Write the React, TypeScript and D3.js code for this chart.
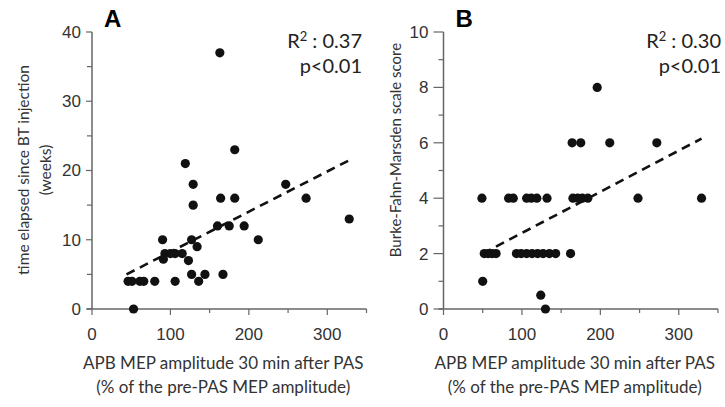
import React from "react";
import * as d3 from "d3";

// panel A: time since BT injection (weeks) vs MEP amplitude
const mepA = [163, 182, 119, 129, 129, 164, 182, 247, 273, 328, 160, 175, 194, 212, 90, 127, 134, 93, 100, 106, 115, 91, 123, 127, 144, 167, 46, 51, 61, 66, 80, 106, 136, 53];
const weeksA = [37, 23, 21, 18, 15, 16, 16, 18, 16, 13, 12, 12, 12, 10, 10, 10, 9, 8, 8, 8, 8, 7.2, 7, 5, 5, 5, 4, 4, 4, 4, 4, 4, 4, 0];
const fitA = [[44, 5.0], [330, 21.6]];

// panel B: BFM scale score vs MEP amplitude
const mepB = [196, 164, 175, 212, 272, 49, 83, 89, 106, 112, 119, 132, 165, 171, 177, 184, 248, 329, 52, 57, 62, 67, 93, 99, 106, 113, 120, 127, 135, 143, 162, 50, 124, 130];
const scoreB = [8, 6, 6, 6, 6, 4, 4, 4, 4, 4, 4, 4, 4, 4, 4, 4, 4, 4, 2, 2, 2, 2, 2, 2, 2, 2, 2, 2, 2, 2, 2, 1, 0.5, 0];
const fitB = [[50, 2.0], [329, 6.15]];

const xTicks = [0, 100, 200, 300];
const xMinor = [0, 50, 100, 150, 200, 250, 300, 350];

const titleFont = "Lato, 'Open Sans', sans-serif";
const tickFont = "'Liberation Sans', Arial, sans-serif";
const axisColor = "#666";

type PanelProps = {
  x0: number;
  label: string;
  xs: number[];
  ys: number[];
  fit: number[][];
  yMax: number;
  yMinor: number[];
  yMajor: number[];
  majorLen: number;
  yTitle: string[];
  yTitleX: number[];
  yTitleY: number;
  yTitleSize: number;
  r2: string;
  textRight: number;
};

const Panel = (p: PanelProps) => {
  const x = d3.scaleLinear().domain([0, 350]).range([p.x0, p.x0 + 274.5]);
  const y = d3.scaleLinear().domain([0, p.yMax]).range([309, 32]);
  const line = d3.line<number[]>().x((d) => x(d[0])).y((d) => y(d[1]));

  return (
    <g>
      <text x={p.x0 + 12} y={27} fontFamily={tickFont} fontWeight="bold" fontSize={24}>{p.label}</text>
      {/* y axis */}
      <line x1={p.x0} x2={p.x0} y1={y(0)} y2={y(p.yMax)} stroke={axisColor} strokeWidth={1.5} />
      {p.yMinor.map((t) => (
        <line key={"ym" + t} x1={p.x0 - (p.yMajor.includes(t) ? p.majorLen : 5)} x2={p.x0} y1={y(t)} y2={y(t)} stroke={axisColor} strokeWidth={1.2} />
      ))}
      {p.yMajor.map((t) => (
        <text key={"yl" + t} x={p.x0 - p.majorLen - 5} y={y(t)} dy="0.35em" textAnchor="end" fontFamily={tickFont} fontSize={17} fill="#333">{t}</text>
      ))}
      {/* x axis */}
      <line x1={x(0) - 5} x2={x(350)} y1={y(0)} y2={y(0)} stroke={axisColor} strokeWidth={1.5} />
      {xMinor.map((t) => (
        <line key={"xm" + t} x1={x(t)} x2={x(t)} y1={y(0)} y2={y(0) + (xTicks.includes(t) ? 6 : 4)} stroke={axisColor} strokeWidth={1.2} />
      ))}
      {xTicks.map((t) => (
        <text key={"xl" + t} x={x(t)} y={340} textAnchor="middle" fontFamily={tickFont} fontSize={17} fill="#333">{t}</text>
      ))}
      <text x={x(175) - 6} y={369} textAnchor="middle" fontFamily={titleFont} fontSize={17} fill="#333">APB MEP amplitude 30 min after PAS</text>
      <text x={x(175) - 6} y={393} textAnchor="middle" fontFamily={titleFont} fontSize={17} fill="#333">(% of the pre-PAS MEP amplitude)</text>
      {p.yTitle.map((s, i) => (
        <text key={"yt" + i} transform={`translate(${p.yTitleX[i]},${p.yTitleY}) rotate(-90)`} textAnchor="middle" dy="0.35em" fontFamily={titleFont} fontSize={p.yTitleSize} fill="#333">{s}</text>
      ))}
      {/* fit line */}
      <path d={line(p.fit) || ""} fill="none" stroke="#111" strokeWidth={2.6} strokeDasharray="9,6" />
      {p.xs.map((v, i) => (
        <circle key={"pt" + i} cx={x(v)} cy={y(p.ys[i])} r={4.6} fill="#111" />
      ))}
      <text x={p.textRight} y={48} textAnchor="end" fontFamily={titleFont} fontSize={20} fill="#222">
        R<tspan dy="-7" fontSize={13}>2</tspan><tspan dy="7">{" : " + p.r2}</tspan>
      </text>
      <text x={p.textRight} y={73} textAnchor="end" fontFamily={titleFont} fontSize={20} fill="#222">p&lt;0.01</text>
    </g>
  );
};

const range = (a: number, b: number, s: number) => d3.range(a, b + s / 2, s);

export default function App() {
  return (
    <svg width={725} height={407} style={{ position: "absolute", left: 0, top: 0, background: "#fff" }}>
      <Panel
        x0={92}
        label="A"
        xs={mepA}
        ys={weeksA}
        fit={fitA}
        yMax={40}
        yMinor={range(0, 40, 5)}
        yMajor={range(0, 40, 10)}
        majorLen={6}
        yTitle={["time elapsed since BT injection", "(weeks)"]}
        yTitleX={[24, 46]}
        yTitleY={170}
        yTitleSize={15.5}
        r2="0.37"
        textRight={362}
      />
      <Panel
        x0={443.5}
        label="B"
        xs={mepB}
        ys={scoreB}
        fit={fitB}
        yMax={10}
        yMinor={range(0, 10, 1)}
        yMajor={range(0, 10, 2)}
        majorLen={10}
        yTitle={["Burke-Fahn-Marsden scale score"]}
        yTitleX={[396]}
        yTitleY={150}
        yTitleSize={15}
        r2="0.30"
        textRight={721}
      />
    </svg>
  );
}
